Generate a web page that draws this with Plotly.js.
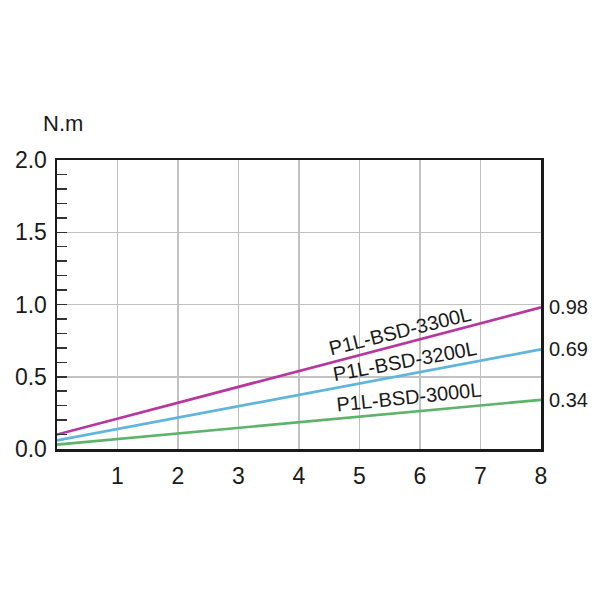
<!DOCTYPE html>
<html>
<head>
<meta charset="utf-8">
<script src="https://cdn.plot.ly/plotly-3.0.1.min.js"></script>
<style>body{margin:0;background:#fff}#chart{width:600px;height:599px}</style>
</head>
<body>
<div id="chart"></div>
<script>
const speeds = [0, 8];
const seriesNames = ["P1L-BSD-3300L", "P1L-BSD-3200L", "P1L-BSD-3000L"];
const torque3300 = [0.10, 0.98];
const torque3200 = [0.06, 0.69];
const torque3000 = [0.03, 0.34];
const endLabels = ["0.98", "0.69", "0.34"];
const xTicks = [1, 2, 3, 4, 5, 6, 7, 8];
const yTicks = [0, 0.5, 1.0, 1.5, 2.0];
const yTickText = ["0.0", "0.5", "1.0", "1.5", "2.0"];

const colors = ["#b8369e", "#5fb6dd", "#5cb36a"];
const series = [torque3300, torque3200, torque3000];
const FONT = "Liberation Sans, Arial, sans-serif";
const INK = "#1a1a1a";

const traces = series.map((ys, i) => ({
  x: speeds, y: ys, mode: "lines", type: "scatter",
  line: {color: colors[i], width: 2.7}, name: seriesNames[i],
  hoverinfo: "skip", cliponaxis: false
}));

const annotations = [];
series.forEach((ys, i) => {
  annotations.push({
    x: speeds[speeds.length - 1], y: ys[ys.length - 1], xref: "x", yref: "y",
    text: endLabels[i], showarrow: false, xanchor: "left", yanchor: "middle",
    xshift: 6, font: {family: FONT, size: 20, color: INK}
  });
});
// rotated series labels (position in data units, angle in degrees)
const labelPos = [[5.67, 0.82, -14], [5.75, 0.61, -10.5], [5.82, 0.36, -6]];
seriesNames.forEach((n, i) => {
  annotations.push({
    x: labelPos[i][0], y: labelPos[i][1], xref: "x", yref: "y",
    text: n, showarrow: false, textangle: labelPos[i][2],
    xanchor: "center", yanchor: "middle",
    font: {family: FONT, size: 20, color: INK}
  });
});
annotations.push({
  x: 0, y: 1, xref: "paper", yref: "paper", text: "N.m", showarrow: false,
  xanchor: "center", yanchor: "bottom", xshift: 6, yshift: 22,
  font: {family: FONT, size: 22, color: INK}
});

const layout = {
  width: 600, height: 599,
  margin: {l: 57, r: 59, t: 160, b: 150},
  paper_bgcolor: "#fff", plot_bgcolor: "#fff",
  showlegend: false,
  xaxis: {
    range: [0, 8], tickvals: xTicks, ticks: "",
    showgrid: true, gridcolor: "#c2c2c2", gridwidth: 1.5,
    showline: true, linecolor: INK, linewidth: 2.5, mirror: true,
    zeroline: false, ticklabelstandoff: 5,
    tickfont: {family: FONT, size: 23, color: INK}
  },
  yaxis: {
    range: [0, 2], tickvals: yTicks, ticktext: yTickText,
    ticks: "inside", ticklen: 10, tickcolor: "#333", tickwidth: 1.5,
    minor: {dtick: 0.1, ticks: "inside", ticklen: 10, tickcolor: "#333", tickwidth: 1.5, showgrid: false},
    showgrid: true, gridcolor: "#c2c2c2", gridwidth: 1.5,
    showline: true, linecolor: INK, linewidth: 2.5, mirror: true,
    zeroline: false, ticklabelstandoff: 3,
    tickfont: {family: FONT, size: 23, color: INK}
  },
  annotations: annotations
};

Plotly.newPlot("chart", traces, layout, {displayModeBar: false, staticPlot: true});
</script>
</body>
</html>
